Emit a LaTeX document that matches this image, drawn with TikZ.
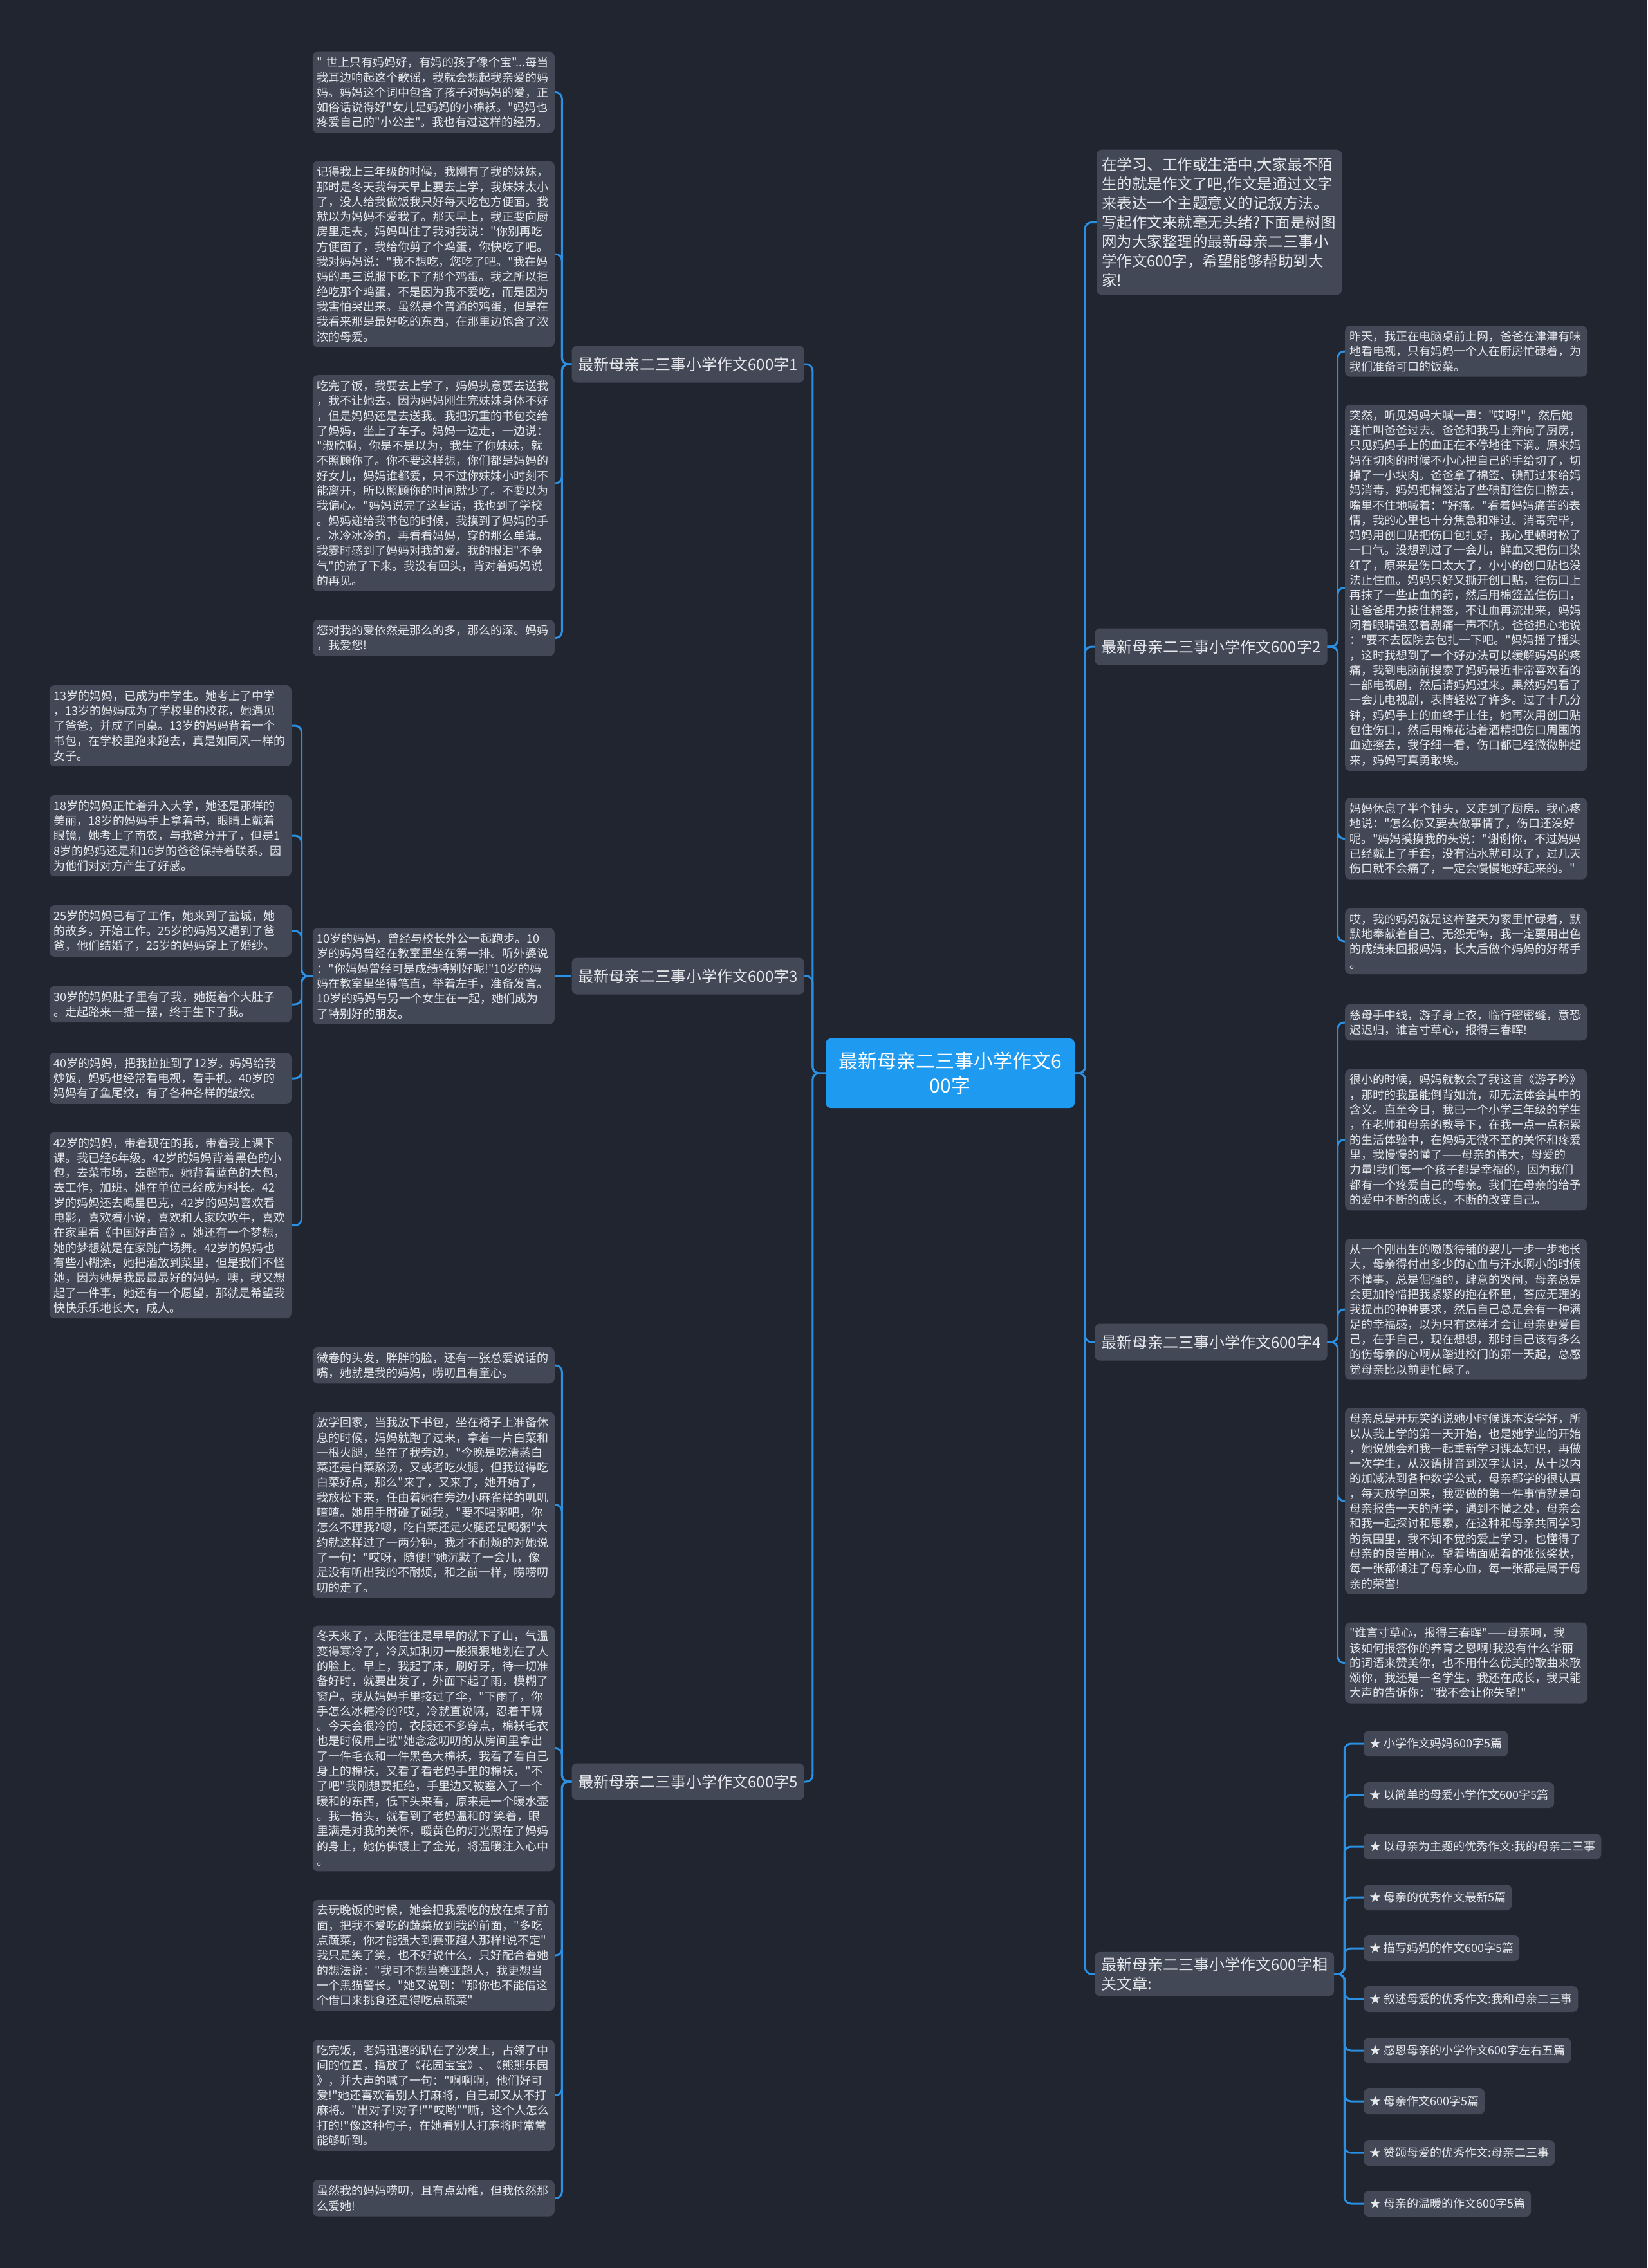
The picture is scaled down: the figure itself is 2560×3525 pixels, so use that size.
\documentclass[tikz,border=0pt]{standalone}
\usepackage{fontspec}
\setmainfont{Noto Sans CJK SC}[Ligatures=TeXOff]
\definecolor{bgnavy}{HTML}{21252F}
\definecolor{cardgray}{HTML}{434857}
\definecolor{rootblue}{HTML}{1E9BF0}
\definecolor{linkblue}{HTML}{2B8FE2}
\definecolor{inktext}{HTML}{E6E8EC}
\begin{document}
\begin{tikzpicture}[x=1pt,y=-1pt,
  leaf/.style={fill=cardgray,rounded corners=8pt,text=inktext,font=\fontsize{18}{23.3}\selectfont,align=left,text width=362pt,inner xsep=7pt,inner ysep=8pt},
  intro/.style={leaf,font=\fontsize{23.5}{30}\selectfont,text width=365pt,inner xsep=8pt,inner ysep=12pt},
  branch/.style={fill=cardgray,rounded corners=8pt,text=inktext,font=\fontsize{24}{30}\selectfont,align=left,inner xsep=10pt,inner ysep=8pt,minimum height=57pt},
  root/.style={fill=rootblue,rounded corners=8pt,text=white,font=\fontsize{30}{38}\selectfont,align=center,minimum width=387pt,minimum height=108pt},
  item/.style={fill=cardgray,rounded corners=8pt,text=inktext,font=\fontsize{18}{22}\selectfont,inner xsep=9pt,minimum height=40pt},
  conn/.style={draw=linkblue,line width=3pt,rounded corners=10pt}]
  \fill[bgnavy] (0,0) rectangle (2560,3525);
  \useasboundingbox (0,0) rectangle (2560,3525);

  \node[root] (root) at (1476.5,1668) {最新母亲二三事小学作文6\\00字};

  % left side
  \node[branch, anchor=east] (b1) at (1250,566) {最新母亲二三事小学作文600字1};
  \node[branch, anchor=east] (b3) at (1250,1517) {最新母亲二三事小学作文600字3};
  \node[branch, anchor=east] (b5) at (1250,2769) {最新母亲二三事小学作文600字5};

  \node[leaf, anchor=east] (l1a) at (862,143.5) {" 世上只有妈妈好，有妈的孩子像个宝"...每当\\我耳边响起这个歌谣，我就会想起我亲爱的妈\\妈。妈妈这个词中包含了孩子对妈妈的爱，正\\如俗话说得好"女儿是妈妈的小棉袄。"妈妈也\\疼爱自己的"小公主"。我也有过这样的经历。};
  \node[leaf, anchor=east] (l1b) at (862,395) {记得我上三年级的时候，我刚有了我的妹妹，\\那时是冬天我每天早上要去上学，我妹妹太小\\了，没人给我做饭我只好每天吃包方便面。我\\就以为妈妈不爱我了。那天早上，我正要向厨\\房里走去，妈妈叫住了我对我说："你别再吃\\方便面了，我给你剪了个鸡蛋，你快吃了吧。\\我对妈妈说："我不想吃，您吃了吧。"我在妈\\妈的再三说服下吃下了那个鸡蛋。我之所以拒\\绝吃那个鸡蛋，不是因为我不爱吃，而是因为\\我害怕哭出来。虽然是个普通的鸡蛋，但是在\\我看来那是最好吃的东西，在那里边饱含了浓\\浓的母爱。};
  \node[leaf, anchor=east] (l1c) at (862,751) {吃完了饭，我要去上学了，妈妈执意要去送我\\，我不让她去。因为妈妈刚生完妹妹身体不好\\，但是妈妈还是去送我。我把沉重的书包交给\\了妈妈，坐上了车子。妈妈一边走，一边说：\\"淑欣啊，你是不是以为，我生了你妹妹，就\\不照顾你了。你不要这样想，你们都是妈妈的\\好女儿，妈妈谁都爱，只不过你妹妹小时刻不\\能离开，所以照顾你的时间就少了。不要以为\\我偏心。"妈妈说完了这些话，我也到了学校\\。妈妈递给我书包的时候，我摸到了妈妈的手\\。冰冷冰冷的，再看看妈妈，穿的那么单薄。\\我霎时感到了妈妈对我的爱。我的眼泪"不争\\气"的流了下来。我没有回头，背对着妈妈说\\的再见。};
  \node[leaf, anchor=east] (l1d) at (862,991.5) {您对我的爱依然是那么的多，那么的深。妈妈\\，我爱您!};

  \node[leaf, anchor=east] (l3e) at (862,1517) {10岁的妈妈，曾经与校长外公一起跑步。10\\岁的妈妈曾经在教室里坐在第一排。听外婆说\\："你妈妈曾经可是成绩特别好呢!"10岁的妈\\妈在教室里坐得笔直，举着左手，准备发言。\\10岁的妈妈与另一个女生在一起，她们成为\\了特别好的朋友。};
  \node[leaf, anchor=east] (l3a) at (453,1128) {13岁的妈妈，已成为中学生。她考上了中学\\，13岁的妈妈成为了学校里的校花，她遇见\\了爸爸，并成了同桌。13岁的妈妈背着一个\\书包，在学校里跑来跑去，真是如同风一样的\\女子。};
  \node[leaf, anchor=east] (l3b) at (453,1299) {18岁的妈妈正忙着升入大学，她还是那样的\\美丽，18岁的妈妈手上拿着书，眼睛上戴着\\眼镜，她考上了南农，与我爸分开了，但是1\\8岁的妈妈还是和16岁的爸爸保持着联系。因\\为他们对对方产生了好感。};
  \node[leaf, anchor=east] (l3c) at (453,1447) {25岁的妈妈已有了工作，她来到了盐城，她\\的故乡。开始工作。25岁的妈妈又遇到了爸\\爸，他们结婚了，25岁的妈妈穿上了婚纱。};
  \node[leaf, anchor=east] (l3d) at (453,1561) {30岁的妈妈肚子里有了我，她挺着个大肚子\\。走起路来一摇一摆，终于生下了我。};
  \node[leaf, anchor=east] (l3f) at (453,1676) {40岁的妈妈，把我拉扯到了12岁。妈妈给我\\炒饭，妈妈也经常看电视，看手机。40岁的\\妈妈有了鱼尾纹，有了各种各样的皱纹。};
  \node[leaf, anchor=east] (l3g) at (453,1904.5) {42岁的妈妈，带着现在的我，带着我上课下\\课。我已经6年级。42岁的妈妈背着黑色的小\\包，去菜市场，去超市。她背着蓝色的大包，\\去工作，加班。她在单位已经成为科长。42\\岁的妈妈还去喝星巴克，42岁的妈妈喜欢看\\电影，喜欢看小说，喜欢和人家吹吹牛，喜欢\\在家里看《中国好声音》。她还有一个梦想，\\她的梦想就是在家跳广场舞。42岁的妈妈也\\有些小糊涂，她把酒放到菜里，但是我们不怪\\她，因为她是我最最最好的妈妈。噢，我又想\\起了一件事，她还有一个愿望，那就是希望我\\快快乐乐地长大，成人。};

  \node[leaf, anchor=east] (l5a) at (862,2122) {微卷的头发，胖胖的脸，还有一张总爱说话的\\嘴，她就是我的妈妈，唠叨且有童心。};
  \node[leaf, anchor=east] (l5b) at (862,2339) {放学回家，当我放下书包，坐在椅子上准备休\\息的时候，妈妈就跑了过来，拿着一片白菜和\\一根火腿，坐在了我旁边，"今晚是吃清蒸白\\菜还是白菜熬汤，又或者吃火腿，但我觉得吃\\白菜好点，那么"来了，又来了，她开始了，\\我放松下来，任由着她在旁边小麻雀样的叽叽\\喳喳。她用手肘碰了碰我，"要不喝粥吧，你\\怎么不理我?嗯，吃白菜还是火腿还是喝粥"大\\约就这样过了一两分钟，我才不耐烦的对她说\\了一句："哎呀，随便!"她沉默了一会儿，像\\是没有听出我的不耐烦，和之前一样，唠唠叨\\叨的走了。};
  \node[leaf, anchor=east] (l5c) at (862,2717.5) {冬天来了，太阳往往是早早的就下了山，气温\\变得寒冷了，冷风如利刃一般狠狠地划在了人\\的脸上。早上，我起了床，刷好牙，待一切准\\备好时，就要出发了，外面下起了雨，模糊了\\窗户。我从妈妈手里接过了伞，"下雨了，你\\手怎么冰糖冷的?哎，冷就直说嘛，忍着干嘛\\。今天会很冷的，衣服还不多穿点，棉袄毛衣\\也是时候用上啦"她念念叨叨的从房间里拿出\\了一件毛衣和一件黑色大棉袄，我看了看自己\\身上的棉袄，又看了看老妈手里的棉袄，"不\\了吧"我刚想要拒绝，手里边又被塞入了一个\\暖和的东西，低下头来看，原来是一个暖水壶\\。我一抬头，就看到了老妈温和的'笑着，眼\\里满是对我的关怀，暖黄色的灯光照在了妈妈\\的身上，她仿佛镀上了金光，将温暖注入心中\\。};
  \node[leaf, anchor=east] (l5d) at (862,3039) {去玩晚饭的时候，她会把我爱吃的放在桌子前\\面，把我不爱吃的蔬菜放到我的前面，"多吃\\点蔬菜，你才能强大到赛亚超人那样!说不定"\\我只是笑了笑，也不好说什么，只好配合着她\\的想法说："我可不想当赛亚超人，我更想当\\一个黑猫警长。"她又说到："那你也不能借这\\个借口来挑食还是得吃点蔬菜"};
  \node[leaf, anchor=east] (l5e) at (862,3256.5) {吃完饭，老妈迅速的趴在了沙发上，占领了中\\间的位置，播放了《花园宝宝》、《熊熊乐园\\》，并大声的喊了一句："啊啊啊，他们好可\\爱!"她还喜欢看别人打麻将，自己却又从不打\\麻将。"出对子!对子!""哎哟""嘶，这个人怎么\\打的!"像这种句子，在她看别人打麻将时常常\\能够听到。};
  \node[leaf, anchor=east] (l5f) at (862,3416.5) {虽然我的妈妈唠叨，且有点幼稚，但我依然那\\么爱她!};

  % right side
  \node[intro, anchor=west] (intro) at (1704,345.5) {在学习、工作或生活中,大家最不陌\\生的就是作文了吧,作文是通过文字\\来表达一个主题意义的记叙方法。\\写起作文来就毫无头绪?下面是树图\\网为大家整理的最新母亲二三事小\\学作文600字，希望能够帮助到大\\家!};
  \node[branch, anchor=west] (b2) at (1701,1005) {最新母亲二三事小学作文600字2};
  \node[branch, anchor=west] (b4) at (1701,2086) {最新母亲二三事小学作文600字4};
  \node[branch, anchor=west] (b6) at (1701,3068) {最新母亲二三事小学作文600字相\\关文章:};

  \node[leaf, anchor=west] (l2a) at (2090,546) {昨天，我正在电脑桌前上网，爸爸在津津有味\\地看电视，只有妈妈一个人在厨房忙碌着，为\\我们准备可口的饭菜。};
  \node[leaf, anchor=west] (l2b) at (2090,913.5) {突然，听见妈妈大喊一声："哎呀!"，然后她\\连忙叫爸爸过去。爸爸和我马上奔向了厨房，\\只见妈妈手上的血正在不停地往下滴。原来妈\\妈在切肉的时候不小心把自己的手给切了，切\\掉了一小块肉。爸爸拿了棉签、碘酊过来给妈\\妈消毒，妈妈把棉签沾了些碘酊往伤口擦去，\\嘴里不住地喊着："好痛。"看着妈妈痛苦的表\\情，我的心里也十分焦急和难过。消毒完毕，\\妈妈用创口贴把伤口包扎好，我心里顿时松了\\一口气。没想到过了一会儿，鲜血又把伤口染\\红了，原来是伤口太大了，小小的创口贴也没\\法止住血。妈妈只好又撕开创口贴，往伤口上\\再抹了一些止血的药，然后用棉签盖住伤口，\\让爸爸用力按住棉签，不让血再流出来，妈妈\\闭着眼睛强忍着剧痛一声不吭。爸爸担心地说\\："要不去医院去包扎一下吧。"妈妈摇了摇头\\，这时我想到了一个好办法可以缓解妈妈的疼\\痛，我到电脑前搜索了妈妈最近非常喜欢看的\\一部电视剧，然后请妈妈过来。果然妈妈看了\\一会儿电视剧，表情轻松了许多。过了十几分\\钟，妈妈手上的血终于止住，她再次用创口贴\\包住伤口，然后用棉花沾着酒精把伤口周围的\\血迹擦去，我仔细一看，伤口都已经微微肿起\\来，妈妈可真勇敢埃。};
  \node[leaf, anchor=west] (l2c) at (2090,1303.5) {妈妈休息了半个钟头，又走到了厨房。我心疼\\地说："怎么你又要去做事情了，伤口还没好\\呢。"妈妈摸摸我的头说："谢谢你，不过妈妈\\已经戴上了手套，没有沾水就可以了，过几天\\伤口就不会痛了，一定会慢慢地好起来的。"};
  \node[leaf, anchor=west] (l2d) at (2090,1463) {哎，我的妈妈就是这样整天为家里忙碌着，默\\默地奉献着自己、无怨无悔，我一定要用出色\\的成绩来回报妈妈，长大后做个妈妈的好帮手\\。};

  \node[leaf, anchor=west] (l4a) at (2090,1589) {慈母手中线，游子身上衣，临行密密缝，意恐\\迟迟归，谁言寸草心，报得三春晖!};
  \node[leaf, anchor=west] (l4b) at (2090,1771.5) {很小的时候，妈妈就教会了我这首《游子吟》\\，那时的我虽能倒背如流，却无法体会其中的\\含义。直至今日，我已一个小学三年级的学生\\，在老师和母亲的教导下，在我一点一点积累\\的生活体验中，在妈妈无微不至的关怀和疼爱\\里，我慢慢的懂了——母亲的伟大，母爱的\\力量!我们每一个孩子都是幸福的，因为我们\\都有一个疼爱自己的母亲。我们在母亲的给予\\的爱中不断的成长，不断的改变自己。};
  \node[leaf, anchor=west] (l4c) at (2090,2035) {从一个刚出生的嗷嗷待铺的婴儿一步一步地长\\大，母亲得付出多少的心血与汗水啊小的时候\\不懂事，总是倔强的，肆意的哭闹，母亲总是\\会更加怜惜把我紧紧的抱在怀里，答应无理的\\我提出的种种要求，然后自己总是会有一种满\\足的幸福感，以为只有这样才会让母亲更爱自\\己，在乎自己，现在想想，那时自己该有多么\\的伤母亲的心啊从踏进校门的第一天起，总感\\觉母亲比以前更忙碌了。};
  \node[leaf, anchor=west] (l4d) at (2090,2333) {母亲总是开玩笑的说她小时候课本没学好，所\\以从我上学的第一天开始，也是她学业的开始\\，她说她会和我一起重新学习课本知识，再做\\一次学生，从汉语拼音到汉字认识，从十以内\\的加减法到各种数学公式，母亲都学的很认真\\，每天放学回来，我要做的第一件事情就是向\\母亲报告一天的所学，遇到不懂之处，母亲会\\和我一起探讨和思索，在这种和母亲共同学习\\的氛围里，我不知不觉的爱上学习，也懂得了\\母亲的良苦用心。望着墙面贴着的张张奖状，\\每一张都倾注了母亲心血，每一张都是属于母\\亲的荣誉!};
  \node[leaf, anchor=west] (l4e) at (2090,2584.5) {"谁言寸草心，报得三春晖"——母亲呵，我\\该如何报答你的养育之恩啊!我没有什么华丽\\的词语来赞美你，也不用什么优美的歌曲来歌\\颂你，我还是一名学生，我还在成长，我只能\\大声的告诉你："我不会让你失望!"};

  \node[item, anchor=west] (r1) at (2119,2710) {★ 小学作文妈妈600字5篇};
  \node[item, anchor=west] (r2) at (2119,2790) {★ 以简单的母爱小学作文600字5篇};
  \node[item, anchor=west] (r3) at (2119,2870) {★ 以母亲为主题的优秀作文:我的母亲二三事};
  \node[item, anchor=west] (r4) at (2119,2949) {★ 母亲的优秀作文最新5篇};
  \node[item, anchor=west] (r5) at (2119,3028) {★ 描写妈妈的作文600字5篇};
  \node[item, anchor=west] (r6) at (2119,3107) {★ 叙述母爱的优秀作文:我和母亲二三事};
  \node[item, anchor=west] (r7) at (2119,3187) {★ 感恩母亲的小学作文600字左右五篇};
  \node[item, anchor=west] (r8) at (2119,3266) {★ 母亲作文600字5篇};
  \node[item, anchor=west] (r9) at (2119,3346) {★ 赞颂母爱的优秀作文:母亲二三事};
  \node[item, anchor=west] (r10) at (2119,3425) {★ 母亲的温暖的作文600字5篇};

  % connectors
  \foreach \b in {b1,b3,b5}
    \draw[conn] (root.west) -- ++(-20,0) |- (\b.east);
  \foreach \b in {intro,b2,b4,b6}
    \draw[conn] (root.east) -- ++(16,0) |- (\b.west);
  \foreach \l in {l1a,l1b,l1c,l1d}
    \draw[conn] (b1.west) -- ++(-15,0) |- (\l.east);
  \draw[conn] (b3.west) -- (l3e.east);
  \foreach \l in {l3a,l3b,l3c,l3d,l3f,l3g}
    \draw[conn] (l3e.west) -- ++(-17,0) |- (\l.east);
  \foreach \l in {l5a,l5b,l5c,l5d,l5e,l5f}
    \draw[conn] (b5.west) -- ++(-15,0) |- (\l.east);
  \foreach \l in {l2a,l2b,l2c,l2d}
    \draw[conn] (b2.east) -- ++(16,0) |- (\l.west);
  \foreach \l in {l4a,l4b,l4c,l4d,l4e}
    \draw[conn] (b4.east) -- ++(16,0) |- (\l.west);
  \foreach \r in {r1,r2,r3,r4,r5,r6,r7,r8,r9,r10}
    \draw[conn] (b6.east) -- ++(16,0) |- (\r.west);
\end{tikzpicture}
\end{document}
